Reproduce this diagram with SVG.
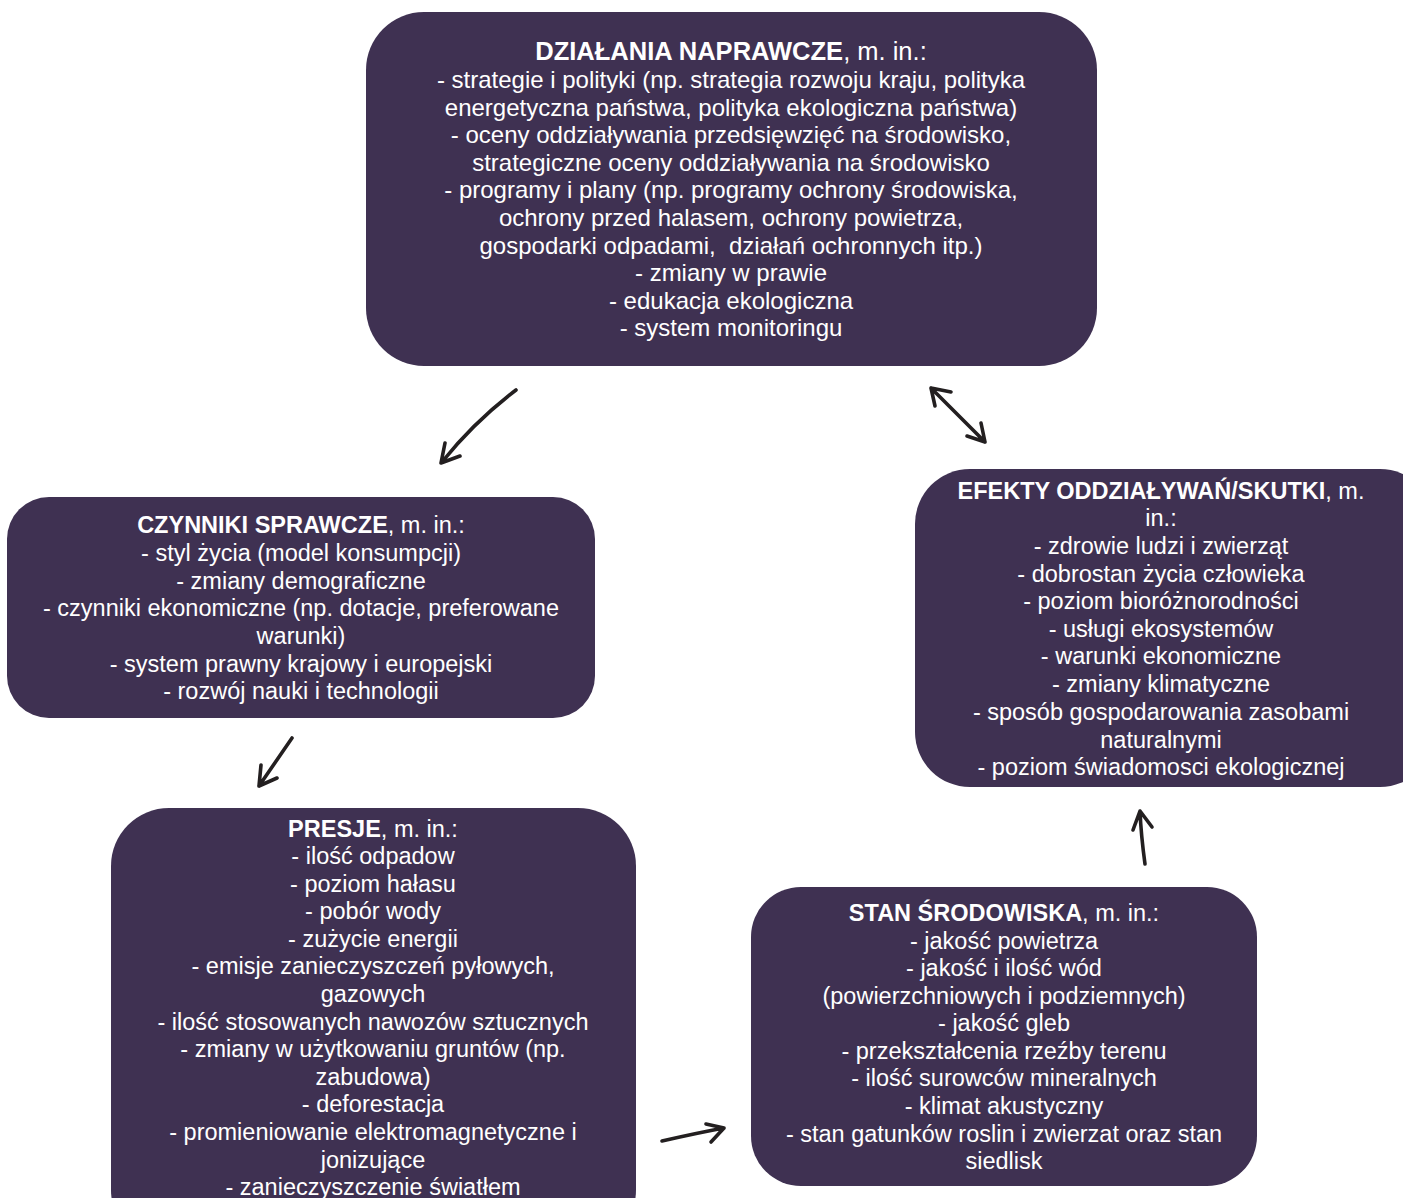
<svg xmlns="http://www.w3.org/2000/svg" width="1403" height="1198" viewBox="0 0 1403 1198">
<style>
.box{fill:#3f3152}
.t{font-family:'Liberation Sans',Arial,Helvetica,sans-serif;font-size:23.5px;fill:#ffffff;text-anchor:middle}
.top{font-size:24px}
.b{font-weight:bold}
.tt{font-size:25.5px}
.arr{fill:none;stroke:#231f20;stroke-width:3.6;stroke-linecap:round;stroke-linejoin:round}
</style>
<rect x="0" y="0" width="1403" height="1198" fill="#ffffff"/>
<g id="dzialania">
<rect class="box" x="366" y="12" width="731" height="354" rx="58" ry="58"/>
<text class="t top" x="731"><tspan x="731" y="60" class="tt"><tspan class="b">DZIAŁANIA NAPRAWCZE</tspan>, m. in.:</tspan><tspan x="731" y="88">- strategie i polityki (np. strategia rozwoju kraju, polityka</tspan><tspan x="731" y="116">energetyczna państwa, polityka ekologiczna państwa)</tspan><tspan x="731" y="143">- oceny oddziaływania przedsięwzięć na środowisko,</tspan><tspan x="731" y="171">strategiczne oceny oddziaływania na środowisko</tspan><tspan x="731" y="198">- programy i plany (np. programy ochrony środowiska,</tspan><tspan x="731" y="226">ochrony przed halasem, ochrony powietrza,</tspan><tspan x="731" y="254">gospodarki odpadami,&#160; działań ochronnych itp.)</tspan><tspan x="731" y="281">- zmiany w prawie</tspan><tspan x="731" y="309">- edukacja ekologiczna</tspan><tspan x="731" y="336">- system monitoringu</tspan></text>
</g>
<g id="czynniki">
<rect class="box" x="7" y="497" width="588" height="221" rx="42" ry="42"/>
<text class="t"><tspan x="301" y="533"><tspan class="b">CZYNNIKI SPRAWCZE</tspan>, m. in.:</tspan><tspan x="301" y="561">- styl życia (model konsumpcji)</tspan><tspan x="301" y="589">- zmiany demograficzne</tspan><tspan x="301" y="616">- czynniki ekonomiczne (np. dotacje, preferowane</tspan><tspan x="301" y="644">warunki)</tspan><tspan x="301" y="672">- system prawny krajowy i europejski</tspan><tspan x="301" y="699">- rozwój nauki i technologii</tspan></text>
</g>
<g id="efekty">
<rect class="box" x="915" y="469" width="520" height="318" rx="55" ry="55"/>
<text class="t"><tspan x="1161" y="499"><tspan class="b">EFEKTY ODDZIAŁYWAŃ/SKUTKI</tspan>, m.</tspan><tspan x="1161" y="526">in.:</tspan><tspan x="1161" y="554">- zdrowie ludzi i zwierząt</tspan><tspan x="1161" y="582">- dobrostan życia człowieka</tspan><tspan x="1161" y="609">- poziom bioróżnorodności</tspan><tspan x="1161" y="637">- usługi ekosystemów</tspan><tspan x="1161" y="664">- warunki ekonomiczne</tspan><tspan x="1161" y="692">- zmiany klimatyczne</tspan><tspan x="1161" y="720">- sposób gospodarowania zasobami</tspan><tspan x="1161" y="748">naturalnymi</tspan><tspan x="1161" y="775">- poziom świadomosci ekologicznej</tspan></text>
</g>
<g id="presje">
<rect class="box" x="111" y="808" width="525" height="440" rx="58" ry="58"/>
<text class="t"><tspan x="373" y="837"><tspan class="b">PRESJE</tspan>, m. in.:</tspan><tspan x="373" y="864">- ilość odpadow</tspan><tspan x="373" y="892">- poziom hałasu</tspan><tspan x="373" y="919">- pobór wody</tspan><tspan x="373" y="947">- zużycie energii</tspan><tspan x="373" y="974">- emisje zanieczyszczeń pyłowych,</tspan><tspan x="373" y="1002">gazowych</tspan><tspan x="373" y="1030">- ilość stosowanych nawozów sztucznych</tspan><tspan x="373" y="1057">- zmiany w użytkowaniu gruntów (np.</tspan><tspan x="373" y="1085">zabudowa)</tspan><tspan x="373" y="1112">- deforestacja</tspan><tspan x="373" y="1140">- promieniowanie elektromagnetyczne i</tspan><tspan x="373" y="1168">jonizujące</tspan><tspan x="373" y="1195">- zanieczyszczenie światłem</tspan></text>
</g>
<g id="stan">
<rect class="box" x="751" y="887" width="506" height="299" rx="50" ry="50"/>
<text class="t"><tspan x="1004" y="921"><tspan class="b">STAN ŚRODOWISKA</tspan>, m. in.:</tspan><tspan x="1004" y="949">- jakość powietrza</tspan><tspan x="1004" y="976">- jakość i ilość wód</tspan><tspan x="1004" y="1004">(powierzchniowych i podziemnych)</tspan><tspan x="1004" y="1031">- jakość gleb</tspan><tspan x="1004" y="1059">- przekształcenia rzeźby terenu</tspan><tspan x="1004" y="1086">- ilość surowców mineralnych</tspan><tspan x="1004" y="1114">- klimat akustyczny</tspan><tspan x="1004" y="1142">- stan gatunków roslin i zwierzat oraz stan</tspan><tspan x="1004" y="1169">siedlisk</tspan></text>
</g>
<g id="connectors">
<path class="arr" d="M516,390 Q474,422 442,462 M445,443 L441,463 L460,456"/>
<path class="arr" d="M931,388 L985,442 M951,392 L931,388 L935,406 M981,423 L985,442 L967,436"/>
<path class="arr" d="M292,738 L259,786 M261,765 L259,786 L277,778"/>
<path class="arr" d="M1145,864 Q1141,835 1140,811 M1133,830 L1140,811 L1152,827"/>
<path class="arr" d="M662,1141 Q697,1133 724,1128 M706,1124 L724,1128 L711,1142"/>
</g>
</svg>
